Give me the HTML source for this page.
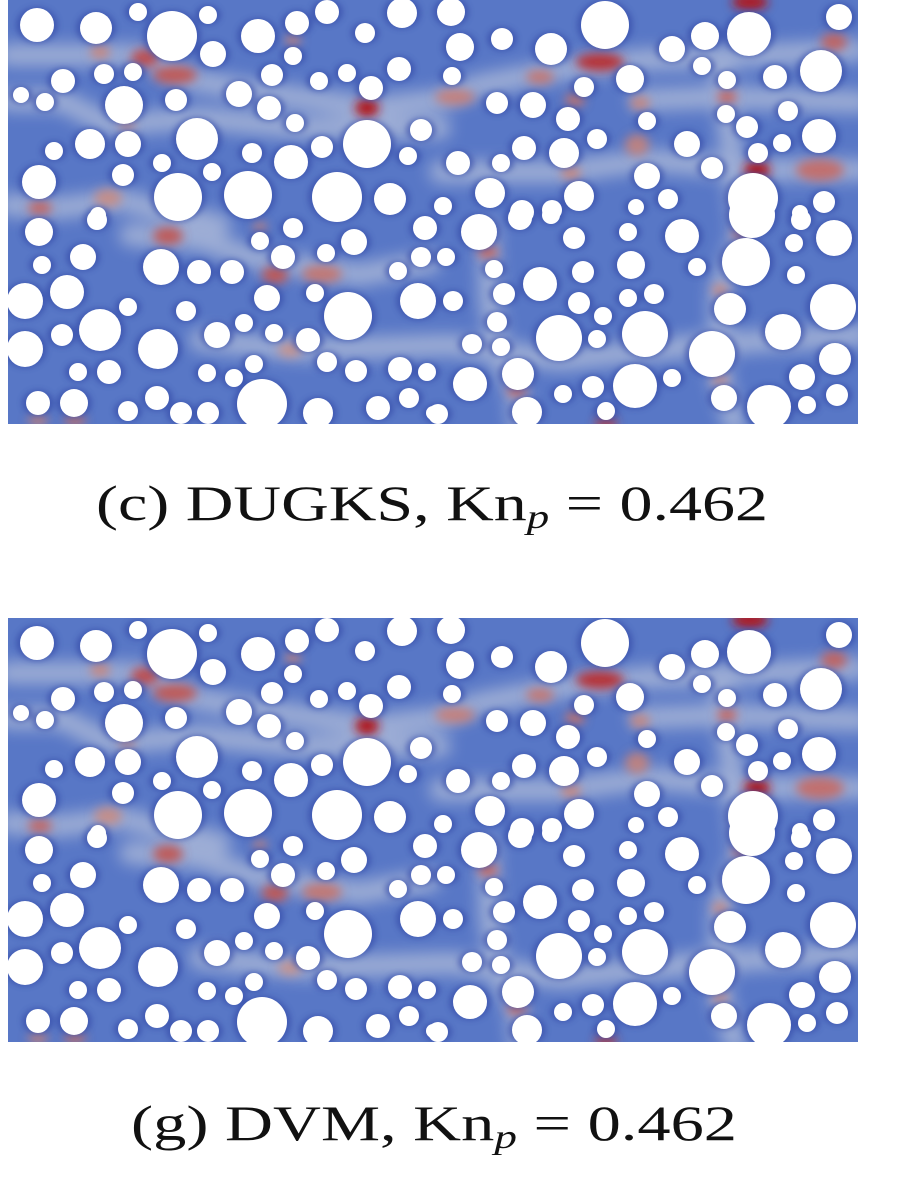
<!DOCTYPE html>
<html><head><meta charset="utf-8">
<style>
html,body{margin:0;padding:0;background:#fff;width:900px;height:1200px;overflow:hidden}
svg{display:block}
</style></head>
<body>
<svg id="fig" width="900" height="1200" viewBox="0 0 900 1200" xmlns="http://www.w3.org/2000/svg">
<defs>
<filter id="b8" x="-20%" y="-20%" width="140%" height="140%"><feGaussianBlur stdDeviation="8"/></filter>
<filter id="b5" x="-50%" y="-50%" width="200%" height="200%"><feGaussianBlur stdDeviation="5"/></filter>
<filter id="b3" x="-50%" y="-50%" width="200%" height="200%"><feGaussianBlur stdDeviation="3"/></filter>
<clipPath id="clipA"><rect x="8" y="0" width="850" height="424"/></clipPath>
</defs>
<text x="96" y="520" font-family="'Liberation Serif', serif" font-size="50" fill="#111" textLength="672" lengthAdjust="spacingAndGlyphs">(c) DUGKS, Kn<tspan font-style="italic" font-size="34" dy="8">p</tspan><tspan dy="-8"> = 0.462</tspan></text>
<text x="131" y="1140" font-family="'Liberation Serif', serif" font-size="50" fill="#111" textLength="606" lengthAdjust="spacingAndGlyphs">(g) DVM, Kn<tspan font-style="italic" font-size="34" dy="8">p</tspan><tspan dy="-8"> = 0.462</tspan></text>
</svg>
<script>
// obstacle circles [x, y, r] in panel coordinates
const circles = [
[37,25,17],[96,28,16],[138,12,9],[172,36,25],[208,15,9],[258,36,17],[297,23,12],[327,12,12],[402,13,15],[365,33,10],
[213,54,13],[293,56,9],[347,73,9],[399,69,12],[371,88,12],[319,81,9],[272,75,11],[133,72,9],[104,74,10],[63,81,12],
[21,95,8],[45,102,9],[124,105,19],[176,100,11],[239,94,13],[269,108,12],[295,123,9],[197,139,21],[367,144,24],[421,130,11],
[90,144,15],[128,144,13],[54,151,9],[252,153,10],[291,162,17],[322,147,11],[408,156,9],[162,163,9],[212,172,9],[123,175,11],
[39,182,17],[178,197,24],[248,195,24],[337,197,25],[390,199,16],[98,215,8],
[451,12,14],[605,25,24],[460,47,14],[502,39,11],[551,49,16],[672,49,13],[705,36,14],[749,34,22],[839,17,13],[702,66,9],
[452,76,9],[584,87,10],[630,79,14],[727,80,9],[775,77,12],[821,71,21],[497,103,11],[533,105,13],[568,119,12],[647,121,9],
[726,114,9],[747,127,11],[788,111,10],[819,136,17],[524,148,12],[564,153,15],[597,139,10],[687,144,13],[782,143,9],[758,153,10],
[458,163,12],[501,163,9],[647,176,13],[712,168,11],[490,193,15],[579,196,15],[753,198,25],[824,202,11],[668,199,10],[636,207,8],
[443,206,9],[522,212,12],[552,210,10],[800,213,8],
[39,232,14],[97,220,10],[42,265,9],[83,257,13],[161,267,18],[199,272,12],[232,272,12],[260,241,9],[293,228,10],[283,257,12],
[326,253,9],[354,242,13],[425,228,12],[421,257,10],[398,271,9],[25,301,18],[67,292,17],[128,307,9],[186,311,10],[267,298,13],
[315,293,9],[348,316,24],[418,301,18],[100,330,21],[62,335,11],[25,349,18],[158,349,20],[217,335,13],[244,323,9],[274,333,9],
[308,340,12],[327,362,10],[356,371,11],[400,369,12],[427,372,9],[78,372,9],[109,372,12],[207,373,9],[234,378,9],[254,364,9],
[38,403,12],[74,403,14],[128,411,10],[157,398,12],[181,413,11],[208,413,11],[262,404,25],[318,413,15],[378,408,12],[409,398,10],[433,413,7],
[479,232,18],[520,218,12],[551,215,9],[446,257,9],[494,269,9],[574,238,11],[583,272,11],[540,284,17],[504,294,11],[453,301,10],
[579,303,11],[628,232,9],[631,265,14],[628,298,9],[654,294,10],[682,236,17],[697,267,9],[746,262,24],[752,215,23],[801,220,10],
[834,238,18],[794,243,9],[796,275,9],[730,309,16],[833,307,23],[603,316,9],[497,322,10],[559,338,23],[597,339,9],[645,334,23],
[783,332,18],[472,344,10],[501,347,9],[712,354,23],[835,359,16],[470,384,17],[518,374,16],[563,394,9],[593,387,11],[635,386,22],
[672,378,9],[724,398,13],[802,377,13],[837,395,11],[807,405,9],[769,407,22],[527,412,15],[606,411,9],[438,414,10]
];
// light (grey) flow channels as polylines, flattened x,y pairs
const bands = [
[8,55,140,55,190,80,260,92,330,102,370,108,440,100,480,85,560,70,640,60,700,58,858,50],
[8,100,60,100,110,125,200,118,300,128,440,128],
[640,100,720,97,860,102],
[440,172,560,172,650,160,757,170,860,170],
[130,235,200,240,260,260,360,275,430,262],
[8,205,60,208,120,200,220,225],
[200,340,300,350,450,345,560,360,700,345,860,335],
[488,230,490,300,500,360,517,391,520,424],
[720,60,742,234,720,290,720,380,735,424]
];
// hot spots [x, y, rx, ry, intensity 0..1]
const hotspots = [
[145,58,12,8,0.8],[175,75,20,8,0.75],[100,52,8,6,0.5],[367,108,10,8,1],[600,62,22,8,0.9],[540,77,12,6,0.6],
[575,100,8,6,0.6],[640,103,8,6,0.5],[637,145,10,10,0.5],[571,173,8,6,0.5],[757,170,11,8,1],[820,170,22,10,0.65],
[727,97,8,6,0.7],[834,42,11,8,0.7],[750,2,16,7,1],[40,208,10,6,0.7],[108,198,12,8,0.45],[168,236,13,8,0.75],
[275,275,11,8,0.75],[322,274,18,8,0.6],[488,252,8,6,0.7],[517,391,8,5,0.7],[606,423,9,5,0.85],[75,420,9,5,0.6],
[38,420,8,5,0.5],[742,234,8,5,0.65],[720,290,6,5,0.5],[720,380,6,5,0.45],[290,350,10,6,0.4],[260,227,5,4,0.5],
[293,40,6,5,0.5],[127,125,6,5,0.4],[455,97,18,7,0.55]
];
const panelOffsets = [0, 618];
const panelNames = ['panel-dugks', 'panel-dvm'];

const NS = 'http://www.w3.org/2000/svg';
const svg = document.getElementById('fig');
function mk(tag, attrs, parent){
  const e = document.createElementNS(NS, tag);
  for (const k in attrs) e.setAttribute(k, attrs[k]);
  parent.appendChild(e);
  return e;
}
function hotColor(v){
  const a=[218,165,140], b=[175,20,30];
  const t=Math.pow(v,2);
  const c=a.map((x,i)=>Math.round(x+(b[i]-x)*t));
  return 'rgb('+c.join(',')+')';
}
panelOffsets.forEach((off, pi) => {
  const g = mk('g', {transform:'translate(0,'+off+')', 'clip-path':'url(#clipA)'}, svg);
  
  
  const bg = mk('rect', {x:8, y:0, width:850, height:424, fill:'#5877c6'}, g);
  
  
  const bandG = mk('g', {filter:'url(#b8)', opacity:'0.75'}, g);
  
  
  bands.forEach(pts => {
    let d = '';
    for (let i=0;i<pts.length;i+=2) d += (i? ' L':'M') + pts[i] + ' ' + pts[i+1];
    const p = mk('path', {d:d, fill:'none', stroke:'#b4bfda', 'stroke-width':22, 'stroke-linecap':'round', 'stroke-linejoin':'round'}, bandG);
    
    
  });
  const hotG = mk('g', {filter:'url(#b5)'}, g);
  
  
  hotspots.forEach(h => {
    const e = mk('ellipse', {cx:h[0], cy:h[1], rx:h[2]+2, ry:h[3]+1, fill:hotColor(h[4]), opacity:0.6+0.4*h[4]}, hotG);
    
    
  });
  const haloG = mk('g', {filter:'url(#b3)', opacity:'0.6'}, g);
  
  
  circles.forEach(c => {
    const e = mk('ellipse', {cx:c[0], cy:c[1], rx:c[2]+4, ry:c[2]+1, fill:'#3346a6'}, haloG);
    
    
  });
  const cg = mk('g', {}, g);
  
  
  circles.forEach(c => {
    const e = mk('circle', {cx:c[0], cy:c[1], r:c[2], fill:'#ffffff'}, cg);
    
    
  });
});
</script>
</body></html>
